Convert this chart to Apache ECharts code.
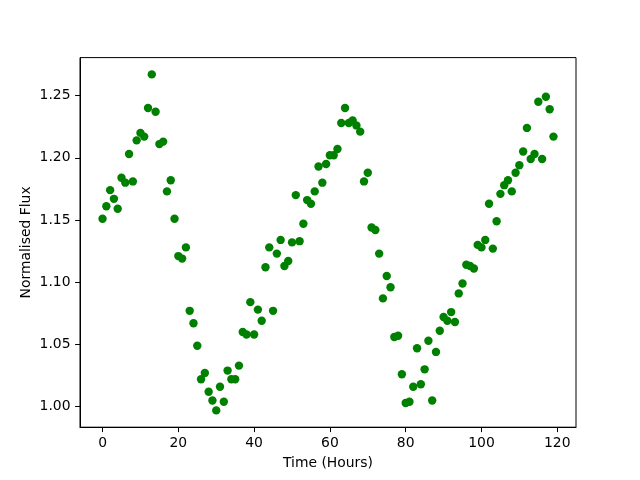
<!DOCTYPE html>
<html>
<head>
<meta charset="utf-8">
<script src="https://cdn.jsdelivr.net/npm/echarts@6/dist/echarts.min.js"></script>
<style>
    html, body { margin: 0; padding: 0; background: #fff; }
    #chart { width: 640px; height: 480px; }
</style>
</head>
<body>
<div id="chart"></div>
<script>
// time of each sample
var hours = [
    0, 1, 2, 3, 4, 5, 6, 7, 8, 9, 10, 11, 12, 13, 14, 15, 16, 17, 18, 19,
    20, 21, 22, 23, 24, 25, 26, 27, 28, 29, 30, 31, 32, 33, 34, 35, 36, 37, 38, 39,
    40, 41, 42, 43, 44, 45, 46, 47, 48, 49, 50, 51, 52, 53, 54, 55, 56, 57, 58, 59,
    60, 61, 62, 63, 64, 65, 66, 67, 68, 69, 70, 71, 72, 73, 74, 75, 76, 77, 78, 79,
    80, 81, 82, 83, 84, 85, 86, 87, 88, 89, 90, 91, 92, 93, 94, 95, 96, 97, 98, 99,
    100, 101, 102, 103, 104, 105, 106, 107, 108, 109, 110, 111, 112, 113, 114, 115, 116, 117, 118, 119
];
// normalised flux
var flux = [
    1.151, 1.161, 1.174, 1.167, 1.159, 1.184, 1.180, 1.203, 1.181, 1.214,
    1.220, 1.217, 1.240, 1.267, 1.237, 1.211, 1.213, 1.173, 1.182, 1.151,
    1.121, 1.119, 1.128, 1.077, 1.067, 1.049, 1.022, 1.027, 1.012, 1.005,
    0.997, 1.016, 1.004, 1.029, 1.022, 1.022, 1.033, 1.060, 1.058, 1.084,
    1.058, 1.078, 1.069, 1.112, 1.128, 1.077, 1.123, 1.134, 1.113, 1.117,
    1.132, 1.170, 1.133, 1.147, 1.166, 1.163, 1.173, 1.193, 1.180, 1.195,
    1.202, 1.202, 1.207, 1.228, 1.240, 1.228, 1.230, 1.226, 1.221, 1.181,
    1.188, 1.144, 1.142, 1.123, 1.087, 1.105, 1.096, 1.056, 1.057, 1.026,
    1.003, 1.004, 1.016, 1.047, 1.018, 1.030, 1.053, 1.005, 1.044, 1.061,
    1.072, 1.069, 1.076, 1.068, 1.091, 1.099, 1.114, 1.113, 1.111, 1.130,
    1.128, 1.134, 1.163, 1.127, 1.149, 1.171, 1.178, 1.182, 1.173, 1.188,
    1.194, 1.205, 1.224, 1.199, 1.203, 1.245, 1.199, 1.249, 1.239, 1.217
];
var xTicks = [0, 20, 40, 60, 80, 100, 120];
var yTicks = [1.00, 1.05, 1.10, 1.15, 1.20, 1.25];

var points = [];
for (var i = 0; i < hours.length; i++) {
    points.push([hours[i], flux[i]]);
}

var font = 'DejaVu Sans';
var myChart = echarts.init(document.getElementById('chart'));
myChart.setOption({
    animation: false,
    backgroundColor: '#fff',
    grid: {
        left: 80,
        right: 64,
        top: 57.6,
        bottom: 52.8,
        show: true,
        borderColor: '#000',
        borderWidth: 1,
        containLabel: false
    },
    xAxis: {
        type: 'value',
        min: -5.95,
        max: 124.95,
        name: 'Time (Hours)',
        nameLocation: 'middle',
        nameGap: 29,
        nameMoveOverlap: false,
        nameTextStyle: { color: '#000', fontSize: 13.9, fontFamily: font },
        axisLine: { show: true, onZero: false, lineStyle: { color: '#000', width: 1 } },
        axisTick: { show: true, length: 4.9, inside: false, customValues: xTicks, lineStyle: { color: '#000' } },
        axisLabel: {
            customValues: xTicks,
            margin: 9.5,
            color: '#000',
            fontSize: 13.9,
            fontFamily: font
        },
        splitLine: { show: false }
    },
    yAxis: {
        type: 'value',
        min: 0.9835,
        max: 1.2805,
        name: 'Normalised Flux',
        nameLocation: 'middle',
        nameGap: 47,
        nameMoveOverlap: false,
        nameTextStyle: { color: '#000', fontSize: 13.9, fontFamily: font },
        axisLine: { show: true, onZero: false, lineStyle: { color: '#000', width: 1 } },
        axisTick: { show: true, length: 4.9, inside: false, customValues: yTicks, lineStyle: { color: '#000' } },
        axisLabel: {
            customValues: yTicks,
            margin: 9.5,
            color: '#000',
            fontSize: 13.9,
            fontFamily: font,
            formatter: function (v) { return v.toFixed(2); }
        },
        splitLine: { show: false }
    },
    series: [{
        type: 'scatter',
        data: points,
        symbol: 'circle',
        symbolSize: 8.4,
        itemStyle: { color: '#008000', opacity: 1 }
    }]
});
</script>
</body>
</html>
